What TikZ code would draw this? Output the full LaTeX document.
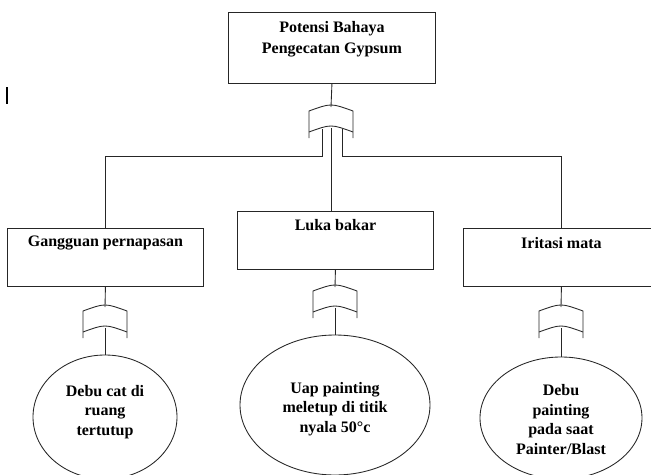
\documentclass[tikz,border=0pt]{standalone}
\usepackage{fontspec}
\setmainfont{Liberation Serif}
\usetikzlibrary{shapes.geometric,calc}
\tikzset{
  x=0.75pt, y=-0.75pt,
  ln/.style={line width=0.65pt, draw=black!85},
  boxnode/.style={ln, rectangle, inner sep=0pt, minimum width=147pt, minimum height=43.5pt, anchor=north west},
  lbl/.style={font=\fontsize{12}{15.5}\selectfont\bfseries, align=center, inner sep=0pt},
  ell/.style={ln, ellipse, inner sep=0pt},
  etxt/.style={font=\fontsize{12}{14.6}\selectfont\bfseries, align=center, inner sep=0pt},
  hazgate/.pic={
    \draw[ln] (-22,31) -- (-22,4) .. controls (0,-4) .. (22,4) -- (22,31);
    \draw[ln] (-22,25) .. controls (0,17) .. (22,25);
    \coordinate (-top) at (0,0);
    \coordinate (-bot) at (0,21);
    \coordinate (-l) at (-9,22);
    \coordinate (-r) at (11,22);
  }
}
\begin{document}
\begin{tikzpicture}
\useasboundingbox (0,0) rectangle (651,475);
% top box
\node[boxnode, minimum width=155.25pt, minimum height=53.25pt] (top) at (228,12) {};
\node[lbl] (toptxt) at ($(top.north)+(0,27)$) {Potensi Bahaya\\Pengecatan Gypsum};
% second level boxes
\node[boxnode] (b1) at (7,228) {};
\node[lbl] (b1txt) at ($(b1.north)+(0,15)$) {Gangguan pernapasan};
\node[boxnode] (b2) at (237,211) {};
\node[lbl] (b2txt) at ($(b2.north)+(0,14)$) {Luka bakar};
\node[boxnode] (b3) at (463,228) {};
\node[lbl] (b3txt) at ($(b3.north)+(0,15)$) {Iritasi mata};
% gates
\pic (g0) at (331,107) {hazgate};
\pic (g1) at (105,307) {hazgate};
\pic (g2) at (335,287) {hazgate};
\pic (g3) at (561,307) {hazgate};
% ellipses
\node[ell, minimum width=108pt, minimum height=93pt] (e1) at (105,417) {};
\node[etxt] (e1txt) at (105,412) {Debu cat di\\ruang\\tertutup};
\node[ell, minimum width=142.5pt, minimum height=105pt] (e2) at (335,405) {};
\node[etxt] (e2txt) at (335,409) {Uap painting\\meletup di titik\\nyala 50°c};
\node[ell, minimum width=121.5pt, minimum height=91.5pt] (e3) at (561,418) {};
\node[etxt] (e3txt) at (561,419.5) {Debu\\painting\\pada saat\\Painter/Blast};
% connectors
\draw[ln] (top.south) -- (g0-top);
\draw[ln] (g0-bot) -- (g0-bot |- b2.north);
\draw[ln] (g0-l) -- ++(0,27) -| (b1.north);
\draw[ln] (g0-r) -- ++(0,27) -| (b3.north);
\draw[ln] (b1.south) -- (g1-top);
\draw[ln] (b2.south) -- (g2-top);
\draw[ln] (b3.south) -- (g3-top);
\draw[ln] (g1-bot) -- (e1.north);
\draw[ln] (g2-bot) -- (e2.north);
\draw[ln] (g3-bot) -- (e3.north);
% small mark at left
\coordinate (m1) at (7,87);
\coordinate (m2) at (7,104);
\draw[line width=1.2pt] (m1) -- (m2);
\end{tikzpicture}
\end{document}
